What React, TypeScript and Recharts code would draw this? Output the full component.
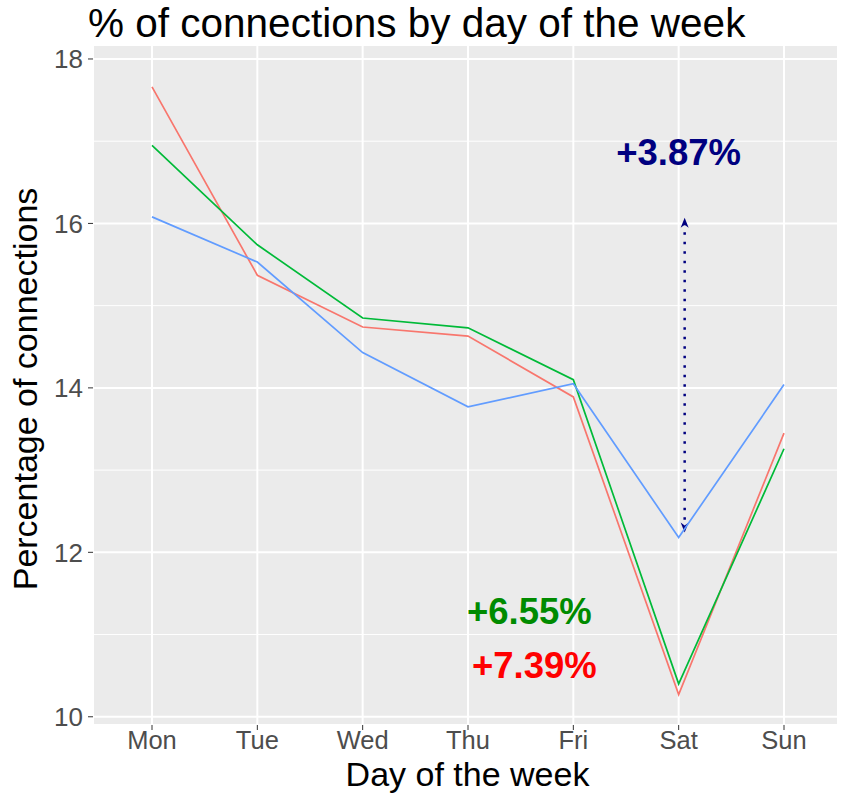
import React from "react";
import {
  LineChart,
  Line,
  XAxis,
  YAxis,
  CartesianGrid,
  ReferenceLine,
  ReferenceDot,
} from "recharts";

const days = ["Mon", "Tue", "Wed", "Thu", "Fri", "Sat", "Sun"];
const seriesRed = [17.66, 15.37, 14.74, 14.63, 13.89, 10.27, 13.45];
const seriesGreen = [16.95, 15.74, 14.85, 14.73, 14.1, 10.4, 13.26];
const seriesBlue = [16.08, 15.53, 14.43, 13.77, 14.05, 12.18, 14.04];
const yTicks = [10, 12, 14, 16, 18];
const minorTicks = [11, 13, 15, 17];

const FONT = "'Liberation Sans', Arial, sans-serif";

const data = days.map((d, i) => ({
  day: d,
  red: seriesRed[i],
  green: seriesGreen[i],
  blue: seriesBlue[i],
}));

// dotted double-headed arrow, nudged a little right of the Sat gridline
const ArrowShape = (props: any) => {
  const { x1, y1, x2, y2 } = props;
  if (x1 == null || y1 == null) return null;
  const x = x1 + 6;
  const top = Math.min(y1, y2);
  const bot = Math.max(y1, y2);
  return (
    <g>
      <line
        x1={x}
        y1={top + 5}
        x2={x}
        y2={bot - 5}
        stroke="#000080"
        strokeWidth={2.5}
        strokeDasharray="2.5 7"
      />
      <path
        d={`M${x},${top} L${x - 4},${top + 10} L${x},${top + 7} L${x + 4},${top + 10} Z`}
        fill="#000080"
      />
      <path
        d={`M${x},${bot} L${x - 4},${bot - 10} L${x},${bot - 7} L${x + 4},${bot - 10} Z`}
        fill="#000080"
      />
    </g>
  );
};

const YLabel = (props: any) => {
  const vb = props.viewBox || {};
  const cy = (vb.y ?? 45) + (vb.height ?? 680) / 2 + 4;
  return (
    <text
      x={37}
      y={cy}
      transform={`rotate(-90, 37, ${cy})`}
      textAnchor="middle"
      fontSize={34}
      fontFamily={FONT}
      fill="#000"
    >
      Percentage of connections
    </text>
  );
};

export default function App() {
  return (
    <div style={{ position: "absolute", left: 0, top: 0, width: 844, height: 795, background: "#fff" }}>
      <div
        style={{
          position: "absolute",
          left: 88,
          top: 3,
          fontFamily: FONT,
          fontSize: 40.5,
          lineHeight: 1,
          color: "#000",
          whiteSpace: "nowrap",
        }}
      >
        % of connections by day of the week
      </div>
      <LineChart
        width={844}
        height={795}
        data={data}
        margin={{ top: 45, right: 6, left: 0, bottom: 0 }}
        style={{ fontFamily: FONT }}
      >
        <CartesianGrid fill="#EBEBEB" stroke="#FFFFFF" strokeWidth={2} />
        {minorTicks.map((v) => (
          <ReferenceLine key={v} y={v} stroke="#FFFFFF" strokeWidth={1} />
        ))}
        <XAxis
          dataKey="day"
          scale="point"
          padding={{ left: 59, right: 54 }}
          height={70}
          axisLine={false}
          tickLine={{ stroke: "#333333" }}
          tickSize={5}
          tickMargin={1}
          tick={{ fontSize: 25.5, fill: "#4D4D4D", fontFamily: FONT }}
          label={{
            value: "Day of the week",
            position: "insideBottom",
            offset: 9,
            dx: 2,
            fontSize: 34,
            fill: "#000",
            fontFamily: FONT,
          }}
        />
        <YAxis
          type="number"
          domain={[9.9, 18.17]}
          ticks={yTicks}
          width={93}
          axisLine={false}
          tickLine={{ stroke: "#333333" }}
          tickSize={5}
          tickMargin={5}
          tick={{ fontSize: 26, fill: "#4D4D4D", fontFamily: FONT }}
          allowDataOverflow
          label={<YLabel />}
        />
        <ReferenceLine
          segment={[
            { x: "Sat", y: 16.07 },
            { x: "Sat", y: 12.24 },
          ]}
          shape={ArrowShape}
        />
        <Line type="linear" dataKey="red" stroke="#F8766D" strokeWidth={1.7} dot={false} isAnimationActive={false} />
        <Line type="linear" dataKey="green" stroke="#00BA38" strokeWidth={1.7} dot={false} isAnimationActive={false} />
        <Line type="linear" dataKey="blue" stroke="#619CFF" strokeWidth={1.7} dot={false} isAnimationActive={false} />
        <ReferenceDot
          x="Sat"
          y={16.87}
          r={0}
          label={{ value: "+3.87%", position: "center", fontSize: 36.5, fontWeight: "bold", fill: "#000080", fontFamily: FONT }}
        />
        <ReferenceDot
          x="Fri"
          y={11.28}
          r={0}
          label={{ value: "+6.55%", position: "center", dx: -44, fontSize: 36.5, fontWeight: "bold", fill: "#008B00", fontFamily: FONT }}
        />
        <ReferenceDot
          x="Fri"
          y={10.63}
          r={0}
          label={{ value: "+7.39%", position: "center", dx: -39, fontSize: 36.5, fontWeight: "bold", fill: "#FF0000", fontFamily: FONT }}
        />
      </LineChart>
    </div>
  );
}
